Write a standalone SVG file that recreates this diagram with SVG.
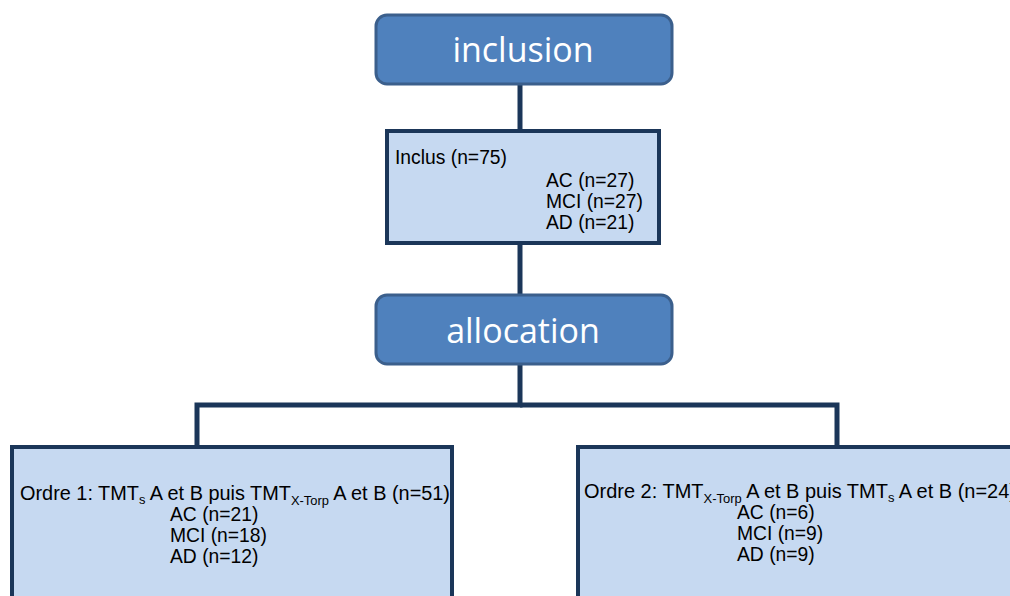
<svg xmlns="http://www.w3.org/2000/svg" width="1010" height="596" viewBox="0 0 1010 596">
<style>
.hdr{fill:#4F81BD;stroke:#3B5F8C;stroke-width:3}
.hdrt{fill:#fff;font-family:"Open Sans","DejaVu Sans",sans-serif;font-size:34px;text-anchor:middle}
.box{fill:#C6D9F1;stroke:#1B3659;stroke-width:4}
.t{fill:#000;font-family:"Liberation Sans",Arial,sans-serif;font-size:19.3px}
.sub{font-size:12.5px}
.con{fill:none;stroke:#1B3659;stroke-width:5}
</style>
<rect width="1010" height="596" fill="#fff"/>
<g id="connectors">
<line class="con" x1="520" y1="84" x2="520" y2="131"/>
<line class="con" x1="520" y1="243" x2="520" y2="296"/>
<polyline class="con" points="520,364 520,405 197,405 197,447"/>
<polyline class="con" points="520,405 837,405 837,447"/>
</g>
<g id="inclusion">
<rect class="hdr" x="376" y="15" width="296" height="69" rx="11"/>
<text class="hdrt" x="523" y="62">inclusion</text>
</g>
<g id="inclus">
<rect class="box" x="387" y="131" width="272" height="112"/>
<text class="t" x="395" y="164">Inclus (n=75)</text>
<text class="t" x="546" y="187">AC (n=27)</text>
<text class="t" x="546" y="208">MCI (n=27)</text>
<text class="t" x="546" y="229">AD (n=21)</text>
</g>
<g id="allocation">
<rect class="hdr" x="376" y="295" width="296" height="69" rx="11"/>
<text class="hdrt" x="523" y="343">allocation</text>
</g>
<g id="ordre1">
<rect class="box" x="12" y="447" width="440" height="160"/>
<text class="t" x="20" y="500" textLength="430" lengthAdjust="spacingAndGlyphs">Ordre 1: TMT<tspan class="sub" dy="4">s</tspan><tspan dy="-4"> A et B puis TMT</tspan><tspan class="sub" dy="5">X-Torp</tspan><tspan dy="-5"> A et B (n=51)</tspan></text>
<text class="t" x="170" y="521">AC (n=21)</text>
<text class="t" x="170" y="542">MCI (n=18)</text>
<text class="t" x="170" y="563">AD (n=12)</text>
</g>
<g id="ordre2">
<rect class="box" x="578" y="447" width="450" height="160"/>
<text class="t" x="584" y="498" textLength="432" lengthAdjust="spacingAndGlyphs">Ordre 2: TMT<tspan class="sub" dy="5">X-Torp</tspan><tspan dy="-5"> A et B puis TMT</tspan><tspan class="sub" dy="4">s</tspan><tspan dy="-4"> A et B (n=24)</tspan></text>
<text class="t" x="737" y="519">AC (n=6)</text>
<text class="t" x="737" y="540">MCI (n=9)</text>
<text class="t" x="737" y="561">AD (n=9)</text>
</g>
</svg>
